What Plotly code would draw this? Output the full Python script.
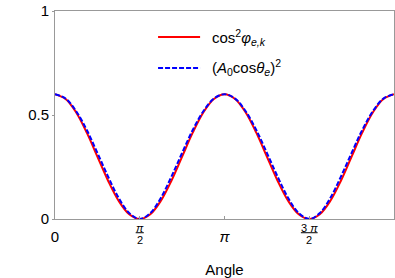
import numpy as np
import plotly.graph_objects as go

# sample positions: k*pi/16, k = 0..32
angle = [k * np.pi / 16 for k in range(33)]

half_red = [0.600, 0.577, 0.512, 0.415, 0.300, 0.185, 0.088, 0.023, 0.000]
half_blue = [0.600, 0.579, 0.518, 0.428, 0.318, 0.205, 0.102, 0.029, 0.000]

red_vals = (half_red + half_red[-2::-1] + half_red[1:] + half_red[-2::-1])
blue_vals = (half_blue + half_blue[-2::-1] + half_blue[1:] + half_blue[-2::-1])

x_tickvals = [0, np.pi / 2, np.pi, 3 * np.pi / 2]
x_ticktext = ["0", "", "<i>π</i>", ""]
# fraction tick labels (drawn as numerator / bar / denominator)
frac_pos = [np.pi / 2, 3 * np.pi / 2]
frac_num = ["<i>π</i>", "3 <i>π</i>"]
frac_den = ["2", "2"]
frac_bar_halfwidth = [0.075, 0.155]
y_tickvals = [0, 0.5, 1]
y_ticktext = ["0", "0.5", "1"]

red_name = "cos<sup>2</sup><i>φ</i><sub><i>e,k</i></sub>"
blue_name = "(<i>A</i><sub>0</sub>cos<i>θ</i><sub><i>e</i></sub>)<sup>2</sup>"

FONT = "Liberation Sans, Arial, sans-serif"

fig = go.Figure()
fig.add_trace(go.Scatter(x=angle, y=red_vals, mode="lines", name=red_name,
                         line=dict(color="#ff0000", width=2, shape="spline"),
                         showlegend=False))
fig.add_trace(go.Scatter(x=angle, y=blue_vals, mode="lines", name=blue_name,
                         line=dict(color="#0000ff", width=2, dash="5px,2px", shape="spline"),
                         showlegend=False))

shapes = []
annotations = []
# fraction tick labels
for xp, num, den, hw in zip(frac_pos, frac_num, frac_den, frac_bar_halfwidth):
    annotations.append(dict(x=xp, y=-0.043, xref="x", yref="paper", text=num,
                            showarrow=False, font=dict(size=11), yanchor="middle"))
    annotations.append(dict(x=xp, y=-0.101, xref="x", yref="paper", text=den,
                            showarrow=False, font=dict(size=11), yanchor="middle"))
    shapes.append(dict(type="line", xref="x", yref="paper", x0=xp - hw, x1=xp + hw,
                       y0=-0.066, y1=-0.066, line=dict(color="#000", width=1)))

# legend (drawn manually)
legend_items = [(red_name, "#ff0000", "solid", 0.875), (blue_name, "#0000ff", "5px,2px", 0.726)]
for name, col, dash, yy in legend_items:
    shapes.append(dict(type="line", xref="paper", yref="paper", x0=0.304, x1=0.428,
                       y0=yy, y1=yy, line=dict(color=col, width=2, dash=dash)))
    annotations.append(dict(x=0.457, y=yy, xref="paper", yref="paper", text=name,
                            showarrow=False, xanchor="left", yanchor="middle",
                            font=dict(size=15)))

fig.update_layout(
    width=395, height=278,
    margin=dict(l=55, r=1, t=11, b=59),
    paper_bgcolor="white", plot_bgcolor="white",
    font=dict(family=FONT, size=15, color="#000"),
    showlegend=False,
    shapes=shapes,
    annotations=annotations,
    xaxis=dict(range=[0, 2 * np.pi], tickvals=x_tickvals, ticktext=x_ticktext,
               showgrid=False, zeroline=False, showline=True, linecolor="#999",
               linewidth=1, mirror=True, ticks="inside", ticklen=3, tickcolor="#999",
               automargin=False, ticklabelstandoff=4,
               title=dict(text="Angle", font=dict(size=15), standoff=24),
               tickfont=dict(size=15)),
    yaxis=dict(range=[0, 1], tickvals=y_tickvals, ticktext=y_ticktext,
               showgrid=False, zeroline=False, showline=True, linecolor="#999",
               linewidth=1, mirror=True, ticks="outside", ticklen=2, tickcolor="#999",
               automargin=False,
               tickfont=dict(size=15)),
)

# remove the default page margin so the 395x278 figure fills the view exactly
fig.write_html(
    "out.html",
    config={"displayModeBar": False},
    post_script="document.body.style.margin='0';document.body.style.overflow='hidden';",
)
